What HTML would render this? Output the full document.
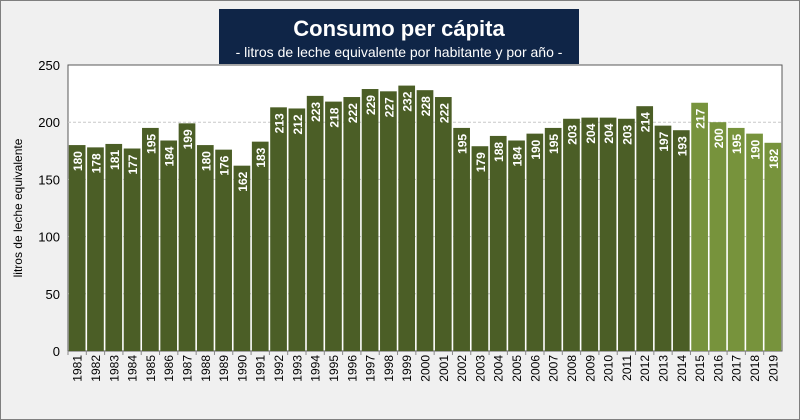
<!DOCTYPE html>
<html><head><meta charset="utf-8"><style>
body{margin:0;background:#fff}
#wrap{position:relative;width:800px;height:420px;background:#f0f0f0;border:1px solid #7f7f7f;box-sizing:border-box;font-family:"Liberation Sans",sans-serif}
#title{position:absolute;left:218px;top:8px;width:360px;height:55px;background:#0f2547;color:#fff;text-align:center}
#title .t{font-size:22px;font-weight:bold;margin-top:7px}
#title .s{font-size:14px;margin-top:2px}
</style></head><body>
<div id="wrap">
<svg id="chart" width="800" height="420" style="position:absolute;left:-1px;top:-1px"></svg>
<div id="title">
<div class="t">Consumo per cápita</div>
<div class="s">- litros de leche equivalente por habitante y por año -</div>
</div>
</div>
<script>
const years=[1981,1982,1983,1984,1985,1986,1987,1988,1989,1990,1991,1992,1993,1994,1995,1996,1997,1998,1999,2000,2001,2002,2003,2004,2005,2006,2007,2008,2009,2010,2011,2012,2013,2014,2015,2016,2017,2018,2019];
const values=[180,178,181,177,195,184,199,180,176,162,183,213,212,223,218,222,229,227,232,228,222,195,179,188,184,190,195,203,204,204,203,214,197,193,217,200,195,190,182];
const yTicks=[0,50,100,150,200,250];
const highlightFrom=2015;
const NS="http://www.w3.org/2000/svg";
const svg=document.getElementById('chart');
const L=68,R=782,T=65,B=351,yMax=250;
const y=v=>B-(v/yMax)*(B-T);
const bw=(R-L)/years.length;
const x=i=>L+i*bw;
function mk(tag,attrs){const e=document.createElementNS(NS,tag);for(const k in attrs)e.setAttribute(k,attrs[k]);svg.appendChild(e);return e;}
const plot=mk('rect',{x:L,y:T,width:R-L,height:B-T,fill:'#fff',stroke:'#595959','stroke-width':1});


yTicks.forEach(t=>{
  if(t>0&&t<yMax){const g=mk('line',{x1:L,x2:R,y1:y(t),y2:y(t),stroke:'#c8c8c8','stroke-dasharray':'3,2'});
  
  }
  const tx=mk('text',{x:L-8,y:y(t)+5,'text-anchor':'end','font-size':13,fill:'#000'});
  tx.textContent=t;
  
  
});
years.forEach((yr,i)=>{
  const light=yr>=highlightFrom;
  const r=mk('rect',{x:x(i)+0.8,y:y(values[i]),width:bw-1.6,height:B-y(values[i]),fill:light?'#77933c':'#4b5e26'});
  
  
  const cx=x(i)+bw/2;
  const lb=mk('text',{x:0,y:0,transform:`translate(${cx+5},${y(values[i])+6}) rotate(-90)`,'text-anchor':'end','font-size':12,'font-weight':'bold',fill:'#fff'});
  lb.textContent=values[i];
  
  
  const xl=mk('text',{x:0,y:0,transform:`translate(${cx+4.5},${B+4}) rotate(-90)`,'text-anchor':'end','font-size':12,fill:'#000'});
  xl.textContent=yr;
  
  
  const tk=mk('line',{x1:x(i),x2:x(i),y1:B,y2:B+4,stroke:'#888'});
  
  
});
const yt=mk('text',{x:0,y:0,transform:`translate(22,${(T+B)/2}) rotate(-90)`,'text-anchor':'middle','font-size':12,fill:'#000'});
yt.textContent='litros de leche equivalente';


</script>
</body></html>
